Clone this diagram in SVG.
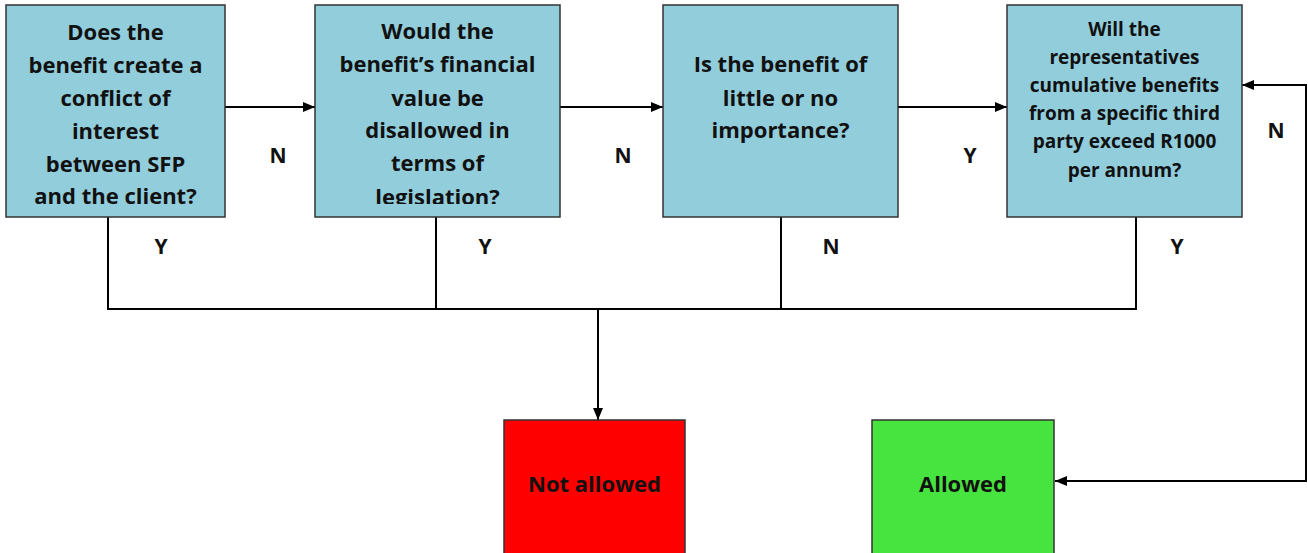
<svg xmlns="http://www.w3.org/2000/svg" width="1308" height="553" viewBox="0 0 1308 553">
<style>
.box{fill:#92CDDC;stroke:#333;stroke-width:1.5}
.t{font-family:"Open Sans","Liberation Sans",sans-serif;font-weight:bold;font-size:22px;fill:#111;text-anchor:middle}
.s{font-size:19px}
.lbl{font-family:"Open Sans","Liberation Sans",sans-serif;font-weight:bold;font-size:21px;fill:#111;text-anchor:middle}
.c{fill:none;stroke:#000;stroke-width:2}
</style>
<defs>
<marker id="ah" viewBox="0 0 12 10" refX="12" refY="5" markerWidth="12" markerHeight="10" markerUnits="userSpaceOnUse" orient="auto-start-reverse">
<path d="M0,0 L12,5 L0,10 Z" fill="#000"/>
</marker>
<clipPath id="clip2"><rect x="315" y="5" width="245" height="199"/></clipPath>
</defs>
<rect width="1308" height="553" fill="#fff"/>
<g id="connectors">
<line class="c" x1="225" y1="107" x2="315" y2="107" marker-end="url(#ah)"/>
<line class="c" x1="560" y1="107" x2="663" y2="107" marker-end="url(#ah)"/>
<line class="c" x1="895" y1="107" x2="1007" y2="107" marker-end="url(#ah)"/>
<path class="c" d="M108,217 V309 H1136 V217 M436,217 V309 M781,217 V309" stroke-width="1.5"/>
<line class="c" x1="598" y1="309" x2="598" y2="420" marker-end="url(#ah)"/>
<path class="c" d="M1242,85 H1306 V481 H1055" marker-start="url(#ah)" marker-end="url(#ah)"/>
</g>
<g id="labels">
<text class="lbl" x="278" y="163">N</text>
<text class="lbl" x="623" y="163">N</text>
<text class="lbl" x="970" y="163">Y</text>
<text class="lbl" x="1276" y="138">N</text>
<text class="lbl" x="161" y="254">Y</text>
<text class="lbl" x="485" y="254">Y</text>
<text class="lbl" x="831" y="254">N</text>
<text class="lbl" x="1177" y="254">Y</text>
</g>
<g id="q1">
<rect class="box" x="6" y="5" width="219" height="212"/>
<text class="t"><tspan x="115.5" y="40">Does the</tspan><tspan x="115.5" y="73">benefit create a</tspan><tspan x="115.5" y="106">conflict of</tspan><tspan x="115.5" y="139">interest</tspan><tspan x="115.5" y="172">between SFP</tspan><tspan x="115.5" y="204">and the client?</tspan></text>
</g>
<g id="q2">
<rect class="box" x="315" y="5" width="245" height="212"/>
<text class="t" clip-path="url(#clip2)"><tspan x="437.5" y="39">Would the</tspan><tspan x="437.5" y="72">benefit’s financial</tspan><tspan x="437.5" y="106">value be</tspan><tspan x="437.5" y="138">disallowed in</tspan><tspan x="437.5" y="171">terms of</tspan><tspan x="437.5" y="205">legislation?</tspan></text>
</g>
<g id="q3">
<rect class="box" x="663" y="5" width="235" height="212"/>
<text class="t"><tspan x="780.5" y="72">Is the benefit of</tspan><tspan x="780.5" y="106">little or no</tspan><tspan x="780.5" y="138">importance?</tspan></text>
</g>
<g id="q4">
<rect class="box" x="1007" y="5" width="235" height="212"/>
<text class="t s"><tspan x="1124.5" y="36">Will the</tspan><tspan x="1124.5" y="64">representatives</tspan><tspan x="1124.5" y="92">cumulative benefits</tspan><tspan x="1124.5" y="120">from a specific third</tspan><tspan x="1124.5" y="148">party exceed R1000</tspan><tspan x="1124.5" y="177">per annum?</tspan></text>
</g>
<g id="notallowed">
<rect x="504" y="420" width="181" height="140" fill="#FF0000" stroke="#333" stroke-width="1.5"/>
<text class="t" x="594.5" y="492">Not allowed</text>
</g>
<g id="allowed">
<rect x="872" y="420" width="182" height="140" fill="#47E33E" stroke="#333" stroke-width="1.5"/>
<text class="t" x="963" y="492">Allowed</text>
</g>
</svg>
